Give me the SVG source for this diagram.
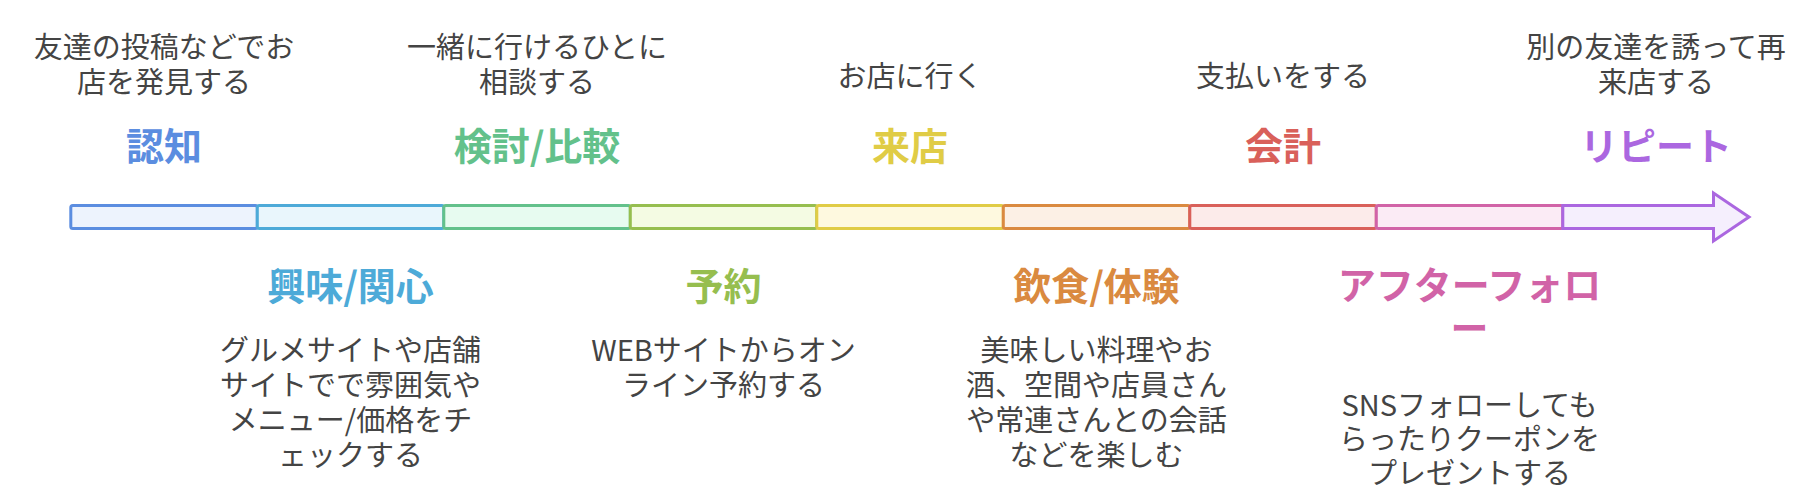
<svg xmlns="http://www.w3.org/2000/svg" width="1818" height="502" viewBox="0 0 1818 502">
<style>
text{font-family:"Noto Sans CJK JP","Noto Sans CJK SC",sans-serif;text-anchor:middle}
.t{font-size:38px;font-weight:700}
.d{font-size:29px;fill:#444444}
.seg{stroke-width:3}
</style>
<rect width="1818" height="502" fill="#ffffff"/>
<g id="connectors"></g>
<g id="n1">
<rect class="seg" x="70.8" y="205.5" width="186.5" height="23" rx="2" fill="#EDF3FD" stroke="#5B8DE0"/>
<text class="t" x="164" y="160" fill="#5B8DE0">認知</text>
<text class="d" x="164" y="58">友達の投稿などでお<tspan x="164" dy="35">店を発見する</tspan></text>
</g>
<g id="n2">
<rect class="seg" x="257.3" y="205.5" width="186.5" height="23" rx="2" fill="#E9F6FC" stroke="#4DAAD8"/>
<text class="t" x="350.5" y="300" fill="#4DAAD8">興味/関心</text>
<text class="d" x="350.5" y="360.6">グルメサイトや店舗<tspan x="350.5" dy="35">サイトでで雰囲気や</tspan><tspan x="350.5" dy="35">メニュー/価格をチ</tspan><tspan x="350.5" dy="35">ェックする</tspan></text>
</g>
<g id="n3">
<rect class="seg" x="443.8" y="205.5" width="186.5" height="23" rx="2" fill="#E7FBF0" stroke="#63C18B"/>
<text class="t" x="537" y="160" fill="#63C18B">検討/比較</text>
<text class="d" x="537" y="58">一緒に行けるひとに<tspan x="537" dy="35">相談する</tspan></text>
</g>
<g id="n4">
<rect class="seg" x="630.3" y="205.5" width="186.5" height="23" rx="2" fill="#F4FBE3" stroke="#96BE4F"/>
<text class="t" x="723.5" y="300" fill="#96BE4F">予約</text>
<text class="d" x="723.5" y="360.6">WEBサイトからオン<tspan x="723.5" dy="35">ライン予約する</tspan></text>
</g>
<g id="n5">
<rect class="seg" x="816.8" y="205.5" width="186.5" height="23" rx="2" fill="#FEF9DF" stroke="#E0CC46"/>
<text class="t" x="910" y="160" fill="#E0CC46">来店</text>
<text class="d" x="910" y="87">お店に行く</text>
</g>
<g id="n6">
<rect class="seg" x="1003.3" y="205.5" width="186.5" height="23" rx="2" fill="#FCF0E5" stroke="#DA8A40"/>
<text class="t" x="1096.5" y="300" fill="#DA8A40">飲食/体験</text>
<text class="d" x="1096.5" y="360.6">美味しい料理やお<tspan x="1096.5" dy="35">酒、空間や店員さん</tspan><tspan x="1096.5" dy="35">や常連さんとの会話</tspan><tspan x="1096.5" dy="35">などを楽しむ</tspan></text>
</g>
<g id="n7">
<rect class="seg" x="1189.8" y="205.5" width="186.5" height="23" rx="2" fill="#FCEBEA" stroke="#D9605A"/>
<text class="t" x="1283" y="160" fill="#D9605A">会計</text>
<text class="d" x="1283" y="87">支払いをする</text>
</g>
<g id="n8">
<rect class="seg" x="1376.3" y="205.5" width="186.5" height="23" rx="2" fill="#FBEBF5" stroke="#D163A7"/>
<text class="t" x="1469.5" y="299" fill="#D163A7">アフターフォロ<tspan x="1469.5" dy="43">ー</tspan></text>
<text class="d" x="1469.5" y="416">SNSフォローしても<tspan x="1469.5" dy="34">らったりクーポンを</tspan><tspan x="1469.5" dy="34">プレゼントする</tspan></text>
</g>
<g id="n9">
<path class="seg" d="M1562.8,205.5 H1713.5 V193 L1749,217 L1713.5,241 V228.5 H1562.8 Z" fill="#F5EFFD" stroke="#AB67E0"/>
<text class="t" x="1656" y="160" fill="#AB67E0">リピート</text>
<text class="d" x="1656" y="58">別の友達を誘って再<tspan x="1656" dy="35">来店する</tspan></text>
</g>
</svg>
